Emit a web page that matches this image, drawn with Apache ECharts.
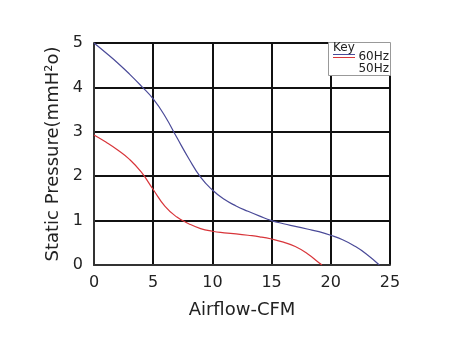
<!DOCTYPE html>
<html><head><meta charset="utf-8">
<script src="https://cdn.jsdelivr.net/npm/echarts@6/dist/echarts.min.js"></script>
<style>html,body{margin:0;padding:0;background:#fff}#c{width:456px;height:352px}</style>
</head><body><div id="c"></div>
<script>
const xTicks = [0, 5, 10, 15, 20, 25];
const yTicks = [0, 1, 2, 3, 4, 5];
const seriesNames = ['60Hz', '50Hz'];
const hz60 = [[0,5],[1,4.78],[2,4.55],[3,4.30],[4,4.03],[5,3.74],[6,3.35],[7,2.87],[8,2.40],[9,1.98],[10,1.69],[11,1.48],[12,1.33],[13,1.21],[14,1.10],[15,1.0],[16,0.93],[17,0.87],[18,0.81],[19,0.75],[20,0.67],[21,0.57],[22,0.43],[23,0.25],[24.1,0]];
const hz50 = [[0,2.93],[1,2.77],[2,2.59],[3,2.38],[4,2.09],[5,1.70],[6,1.32],[7,1.08],[8,0.93],[9,0.82],[10,0.76],[11,0.725],[12,0.70],[13,0.67],[14,0.635],[15,0.585],[16,0.515],[17,0.415],[18,0.26],[19,0.05],[19.25,0]];
const colors = ['#4a4a98', '#d8353a'];
const font = 'DejaVu Sans, sans-serif';
const chart = echarts.init(document.getElementById('c'));
chart.setOption({
  animation: false,
  grid: {left: 94, right: 66, top: 43, bottom: 87},
  xAxis: {
    type: 'value', min: xTicks[0], max: xTicks[xTicks.length-1], interval: 5,
    name: 'Airflow-CFM', nameLocation: 'middle', nameGap: 36,
    nameTextStyle: {fontFamily: font, fontSize: 18, color: '#222'},
    axisLine: {show: true, lineStyle: {color: '#333', width: 2}},
    axisTick: {show: false},
    axisLabel: {fontFamily: font, fontSize: 16, color: '#222', margin: 10},
    splitLine: {show: true, lineStyle: {color: '#111', width: 2}}
  },
  yAxis: {
    type: 'value', min: yTicks[0], max: yTicks[yTicks.length-1], interval: 1,
    name: 'Static Pressure(mmH²o)', nameLocation: 'middle', nameGap: 28,
    nameTextStyle: {fontFamily: font, fontSize: 18, color: '#222'},
    axisLine: {show: true, lineStyle: {color: '#333', width: 2}},
    axisTick: {show: false},
    axisLabel: {fontFamily: font, fontSize: 16, color: '#222', margin: 11},
    splitLine: {show: true, lineStyle: {color: '#111', width: 2}}
  },
  series: [
    {name: seriesNames[0], type: 'line', data: hz60, smooth: 0.5, showSymbol: false, lineStyle: {color: colors[0], width: 1.2}, itemStyle: {color: colors[0]}},
    {name: seriesNames[1], type: 'line', data: hz50, smooth: 0.5, showSymbol: false, lineStyle: {color: colors[1], width: 1.2}, itemStyle: {color: colors[1]}}
  ],
  graphic: [
    {type: 'rect', left: 328, top: 42, shape: {width: 62, height: 33}, style: {fill: '#fff', stroke: '#999', lineWidth: 1}, z: 100},
    {type: 'text', left: 333, top: 42, style: {text: 'Key', font: '12px ' + font, fill: '#222'}, z: 101},
    {type: 'line', shape: {x1: 333, y1: 54.5, x2: 355, y2: 54.5}, style: {stroke: colors[0], lineWidth: 1}, z: 101},
    {type: 'line', shape: {x1: 333, y1: 57.5, x2: 355, y2: 57.5}, style: {stroke: colors[1], lineWidth: 1}, z: 101},
    {type: 'text', right: 67, top: 51, style: {text: seriesNames[0], font: '12px ' + font, fill: '#222'}, z: 101},
    {type: 'text', right: 67, top: 63, style: {text: seriesNames[1], font: '12px ' + font, fill: '#222'}, z: 101}
  ]
});
</script></body></html>
